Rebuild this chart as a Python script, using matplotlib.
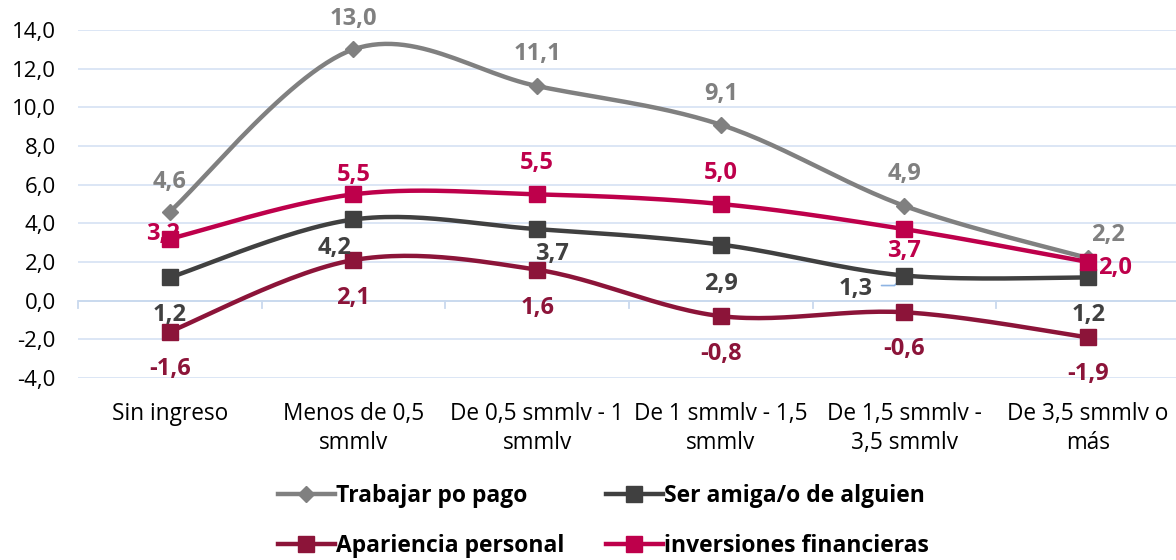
import matplotlib.pyplot as plt
import numpy as np
from matplotlib.lines import Line2D

plt.rcParams['font.family'] = ['Open Sans', 'DejaVu Sans']

categories = ['Sin ingreso', 'Menos de 0,5\nsmmlv', 'De 0,5 smmlv - 1\nsmmlv',
              'De 1 smmlv - 1,5\nsmmlv', 'De 1,5 smmlv -\n3,5 smmlv', 'De 3,5 smmlv o\nmás']
trabajar = [4.6, 13.0, 11.1, 9.1, 4.9, 2.2]
amiga = [1.2, 4.2, 3.7, 2.9, 1.3, 1.2]
apariencia = [-1.6, 2.1, 1.6, -0.8, -0.6, -1.9]
inversiones = [3.2, 5.5, 5.5, 5.0, 3.7, 2.0]
names = ['Trabajar po pago', 'Ser amiga/o de alguien', 'Apariencia personal', 'inversiones financieras']

colors = ['#808080', '#404040', '#8C1439', '#BE004B']
markers = ['D', 's', 's', 's']
msizes = [8, 11, 11, 11]

# label offsets in pixels (dx, dy) per point
offsets = [
    [(0, 30), (0, 30), (0, 32), (0, 31), (0, 32), (20, 23)],
    [(0, -38), (-19, -29), (15, -25), (0, -39), (-49, -13), (0, -38)],
    [(0, -37), (0, -38), (0, -38), (0, -38), (0, -37), (0, -37)],
    [(-7, 5), (0, 19), (0, 31), (0, 31), (0, -22), (27, -6)],
]


def smooth(x, y, n=30):
    # bezier spline through points, similar to office smoothed lines
    x = np.asarray(x, float)
    y = np.asarray(y, float)
    px = np.concatenate([[x[0]], x, [x[-1]]])
    py = np.concatenate([[y[0]], y, [y[-1]]])
    xs, ys = [], []
    t = np.linspace(0, 1, n)
    for i in range(len(x) - 1):
        p0 = np.array([px[i + 1], py[i + 1]])
        p3 = np.array([px[i + 2], py[i + 2]])
        p1 = p0 + (p3 - np.array([px[i], py[i]])) / 6
        p2 = p3 - (np.array([px[i + 3], py[i + 3]]) - p0) / 6
        b = ((1 - t) ** 3)[:, None] * p0 + (3 * (1 - t) ** 2 * t)[:, None] * p1 \
            + (3 * (1 - t) * t ** 2)[:, None] * p2 + (t ** 3)[:, None] * p3
        xs.append(b[:, 0])
        ys.append(b[:, 1])
    return np.concatenate(xs), np.concatenate(ys)


fig = plt.figure(figsize=(11.76, 5.6), dpi=100)
ax = fig.add_axes([78 / 1176, 1 - 378 / 560, 1102 / 1176, 348 / 560])

x = np.arange(len(categories))
series = [trabajar, amiga, apariencia, inversiones]
handles = []
for k in range(4):
    s = series[k]
    sx, sy = smooth(x, s)
    ax.plot(sx, sy, color=colors[k], lw=3.2, solid_capstyle='round', zorder=3 + k)
    ax.plot(x, s, ls='none', marker=markers[k], ms=msizes[k], color=colors[k], zorder=3 + k)
    for i, v in enumerate(s):
        dx, dy = offsets[k][i]
        ax.annotate(f'{v:.1f}'.replace('.', ','), (i, v), xytext=(dx, dy),
                    textcoords='offset pixels', ha='center', va='center',
                    fontsize=17, fontweight='bold', color=colors[k], zorder=10)
    handles.append(Line2D([], [], color=colors[k], lw=3.2, marker=markers[k],
                          ms=msizes[k]))

# leader line for 1,3
ax.annotate('', (4, 1.3), xytext=(-23, -10), textcoords='offset pixels', zorder=2,
            arrowprops=dict(arrowstyle='-', color='#8EB4E3', lw=1.2, shrinkA=0, shrinkB=0,
                            connectionstyle='angle,angleA=0,angleB=45,rad=0'))

ax.set_xlim(-0.5, 5.5)
ax.set_ylim(-4, 14)
yt = np.arange(-4, 15, 2)
ax.set_yticks(yt)
ax.set_yticklabels([f'{v:.1f}'.replace('.', ',') for v in yt], fontsize=16)
ax.grid(axis='y', color='#D9E4F5', lw=1.3)
ax.set_axisbelow(True)
for sp in ax.spines.values():
    sp.set_visible(False)
ax.tick_params(axis='y', length=0, pad=16)
ax.set_xticks(x)
ax.set_xticklabels([])
ax.tick_params(axis='x', length=0)
ax.axhline(0, color='#C9D9EE', lw=1.3, zorder=1)
for b in np.arange(-0.5, 6, 1):
    ax.plot([b, b], [0, -0.38], color='#C9D9EE', lw=1.3, zorder=1, clip_on=False)

for i, c in enumerate(categories):
    ax.annotate(c, (i, -4), xytext=(0, -24), textcoords='offset pixels',
                ha='center', va='top', fontsize=16.3, linespacing=1.3, annotation_clip=False)

lh = [handles[i] for i in [0, 2, 1, 3]]
ll = [names[i] for i in [0, 2, 1, 3]]
fig.legend(lh, ll, loc='center', bbox_to_anchor=(0.513, 0.07), ncol=2, frameon=False,
           prop={'weight': 'bold', 'size': 16.5}, handlelength=2.5, handletextpad=0.05,
           columnspacing=1.8, labelspacing=1.15)

fig.savefig('out.png', dpi=100)
